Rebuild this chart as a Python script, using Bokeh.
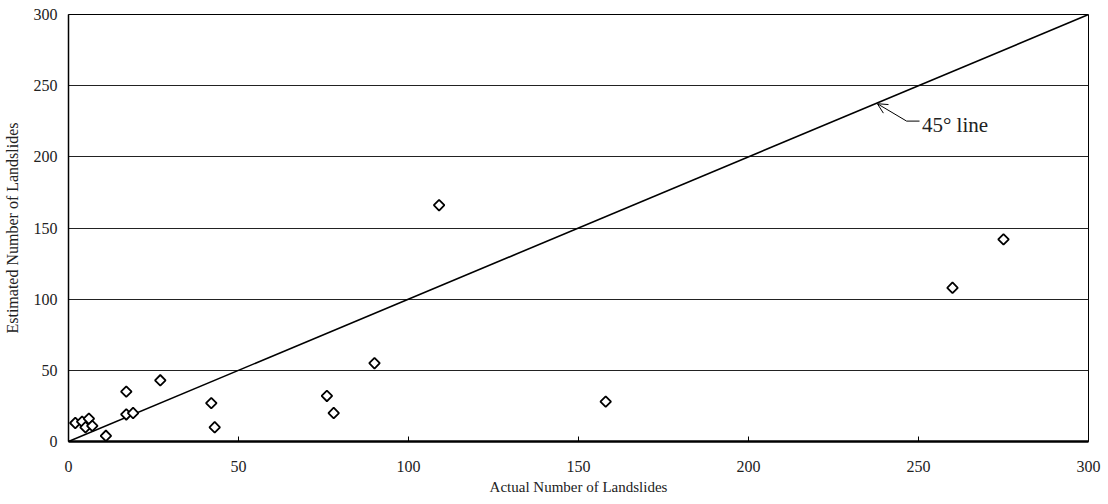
import math
from bokeh.plotting import figure
from bokeh.models import Range1d, ColumnDataSource, Arrow, OpenHead, Label
from bokeh.embed import file_html
from bokeh.resources import INLINE

actual = [2, 4, 5, 6, 7, 11, 17, 17, 19, 27, 42, 43, 76, 78, 90, 109, 158, 260, 275]
estimated = [13, 14, 10, 16, 11, 4, 35, 19, 20, 43, 27, 10, 32, 20, 55, 166, 28, 108, 142]
line_x = [0, 300]
line_y = [0, 300]
x_ticks = [0, 50, 100, 150, 200, 250, 300]
y_ticks = [0, 50, 100, 150, 200, 250, 300]

FONT = "Liberation Serif"

p = figure(width=1092, height=496, output_backend="svg", toolbar_location=None,
           x_range=Range1d(0, 300), y_range=Range1d(0, 300),
           min_border_left=59, min_border_right=13, min_border_top=14, min_border_bottom=55)
p.frame_width = 1020
p.frame_height = 427

p.outline_line_color = "black"
p.outline_line_width = 1
p.background_fill_color = "white"

p.xgrid.grid_line_color = None
p.ygrid.grid_line_color = "#222222"
p.ygrid.grid_line_width = 1
p.ygrid.ticker = y_ticks

p.xaxis.ticker = x_ticks
p.yaxis.ticker = y_ticks

for ax in (p.xaxis, p.yaxis):
    ax.axis_line_color = "black"
    ax.major_label_text_font = FONT
    ax.major_label_text_font_size = "16px"
    ax.major_label_text_color = "#222222"
    ax.axis_label_text_font = FONT
    ax.axis_label_text_font_style = "normal"
    ax.axis_label_text_color = "#222222"
    ax.minor_tick_line_color = None

p.xaxis.axis_label_text_font_size = "15px"
p.yaxis.axis_label_text_font_size = "16px"

p.xaxis.axis_line_width = 2.5
p.yaxis.axis_line_width = 1.5
p.xaxis.major_tick_in = 5
p.xaxis.major_tick_out = 0
p.xaxis.major_tick_line_color = "black"
p.yaxis.major_tick_in = 0
p.yaxis.major_tick_out = 0
p.xaxis.major_label_standoff = 19
p.yaxis.major_label_standoff = 11
p.xaxis.axis_label = "Actual Number of Landslides"
p.yaxis.axis_label = "Estimated Number of Landslides"
p.xaxis.axis_label_standoff = 4
p.yaxis.axis_label_standoff = 10

p.line(line_x, line_y, line_color="black", line_width=1.6)

src = ColumnDataSource(dict(x=actual, y=estimated))
p.scatter("x", "y", source=src, marker="square", angle=math.pi / 4, size=7.5,
          fill_color="white", line_color="black", line_width=1.8)

# annotation "45° line"
p.segment(x0=[246.5], y0=[225.1], x1=[250.3], y1=[225.1], line_color="black", line_width=1)
p.add_layout(Arrow(end=OpenHead(size=10, line_width=1, line_color="black"),
                   x_start=246.5, y_start=225.1, x_end=237.9, y_end=237.3,
                   line_color="black", line_width=1))
p.add_layout(Label(x=251.0, y=222.5, text="45\u00b0 line", text_font=FONT,
                   text_font_size="21px", text_baseline="middle", text_color="#222222"))

open("out.html", "w").write(file_html(p, INLINE))
